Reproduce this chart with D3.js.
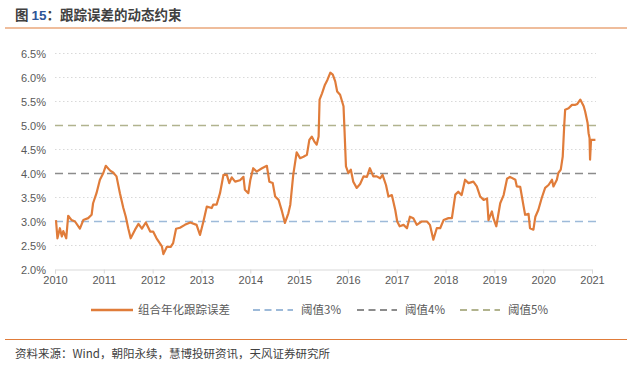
<!DOCTYPE html>
<html><head><meta charset="utf-8">
<script src="https://cdn.jsdelivr.net/npm/d3@7"></script>
<style>
html,body{margin:0;padding:0;background:#fff;}
svg{display:block;}
text{font-family:"Liberation Sans","Noto Sans CJK SC",sans-serif;}
.cn{font-family:"Noto Sans CJK SC","Liberation Sans",sans-serif;}
</style></head>
<body>
<script>
// decimal-year dates and tracking error values (%)
const dates = [2010.02,2010.05,2010.10,2010.14,2010.17,2010.23,2010.27,2010.34,2010.41,2010.51,2010.58,2010.68,2010.75,2010.78,2010.85,2010.92,2010.99,
2011.04,2011.13,2011.19,2011.26,2011.33,2011.40,2011.45,2011.50,2011.55,2011.64,2011.71,2011.78,2011.86,2011.95,
2012.01,2012.08,2012.19,2012.22,2012.29,2012.37,2012.42,2012.48,2012.56,2012.66,2012.77,2012.90,2012.97,
2013.04,2013.11,2013.21,2013.24,2013.31,2013.38,2013.45,2013.52,2013.57,2013.62,2013.69,2013.79,2013.86,2013.89,2013.96,
2014.00,2014.06,2014.13,2014.24,2014.34,2014.39,2014.46,2014.51,2014.58,2014.65,2014.71,2014.78,2014.82,2014.88,2014.95,
2015.02,2015.09,2015.16,2015.21,2015.26,2015.31,2015.36,2015.40,2015.42,2015.47,2015.53,2015.58,2015.64,2015.69,2015.74,2015.78,2015.84,2015.91,2015.93,2015.96,
2016.01,2016.06,2016.11,2016.18,2016.25,2016.32,2016.39,2016.45,2016.52,2016.59,2016.66,2016.71,2016.78,2016.83,2016.90,2016.97,
2017.01,2017.06,2017.14,2017.21,2017.27,2017.34,2017.41,2017.51,2017.62,2017.68,2017.75,2017.82,2017.89,2017.96,
2018.06,2018.13,2018.20,2018.26,2018.33,2018.40,2018.47,2018.57,2018.64,2018.71,2018.78,2018.85,2018.88,2018.95,2018.98,
2019.04,2019.12,2019.19,2019.26,2019.32,2019.43,2019.46,2019.53,2019.60,2019.63,2019.70,2019.73,2019.80,2019.84,2019.90,2019.97,
2020.04,2020.11,2020.18,2020.21,2020.28,2020.31,2020.36,2020.40,2020.43,2020.45,2020.52,2020.59,2020.66,2020.70,2020.76,2020.83,2020.86,2020.91,2020.93,2020.95,2020.96,2020.98,
2021.03,2021.07];
const trackingError = [3.03,2.65,2.86,2.69,2.80,2.65,3.12,3.03,3.00,2.85,3.03,3.07,3.14,3.38,3.59,3.87,4.01,
4.16,4.06,4.02,3.94,3.59,3.28,3.10,2.86,2.65,2.83,2.95,2.85,2.98,2.79,
2.79,2.65,2.48,2.32,2.47,2.47,2.55,2.85,2.87,2.93,2.98,2.93,2.72,
3.00,3.31,3.28,3.35,3.35,3.59,3.97,3.97,3.80,3.92,3.83,3.86,3.93,3.66,3.59,
3.86,4.11,4.04,4.11,4.16,3.83,3.80,3.52,3.45,3.21,2.97,3.17,3.35,3.97,4.44,
4.32,4.35,4.39,4.70,4.77,4.67,4.60,4.77,5.54,5.67,5.85,5.95,6.10,6.06,5.92,5.71,5.64,5.40,4.91,4.15,
4.01,4.08,3.83,3.70,3.78,3.94,3.93,4.11,3.94,3.94,3.90,3.97,3.76,3.52,3.55,3.24,
3.00,2.90,2.93,2.86,3.10,3.07,2.93,3.00,3.00,2.93,2.62,2.86,2.86,3.03,
3.07,3.07,3.56,3.62,3.55,3.87,3.80,3.83,3.73,3.52,3.45,3.48,3.03,3.21,3.07,
2.90,3.38,3.55,3.89,3.93,3.87,3.73,3.72,3.31,3.14,3.16,2.86,2.83,3.10,3.24,3.49,
3.70,3.76,3.87,3.73,3.87,4.01,4.08,4.35,4.98,5.33,5.36,5.43,5.43,5.45,5.54,5.40,5.29,5.05,4.84,4.74,4.29,4.70,
4.70,4.70];
const thresholds = [3, 4, 5];
const thresholdNames = ["阈值3%", "阈值4%", "阈值5%"];
const seriesName = "组合年化跟踪误差";
const yTicks = [2.0,2.5,3.0,3.5,4.0,4.5,5.0,5.5,6.0,6.5];
const xTicks = [2010,2011,2012,2013,2014,2015,2016,2017,2018,2019,2020,2021];
const titleNum = "15";
const titleText = "跟踪误差的动态约束";
const sourceText = "资料来源：Wind，朝阳永续，慧博投研资讯，天风证券研究所";

const W = 632, H = 370;
const orange = "#E07C3A";
const thColors = ["#9DBAD9", "#8C8C8C", "#B1B38E"];

const svg = d3.select("body").append("svg").attr("width", W).attr("height", H);

// title
const t = svg.append("text").attr("class","cn").attr("x", 15).attr("y", 20)
  .attr("font-size", 13.5).attr("font-weight", "bold").attr("fill", "#404040");
t.append("tspan").text("图 ");
t.append("tspan").attr("fill", "#2E5597").attr("font-family","Liberation Sans").text(titleNum);
t.append("tspan").text("：" + titleText);
svg.append("line").attr("x1", 5).attr("x2", 627).attr("y1", 28).attr("y2", 28)
  .attr("stroke", orange).attr("stroke-width", 1.2);

const x = d3.scaleLinear().domain([2010, 2021]).range([55, 592]);
const y = d3.scaleLinear().domain([2.0, 6.5]).range([269.5, 53.5]);
const xRight = 596;

// gridlines
svg.append("g").selectAll("line").data(yTicks.filter(v => v > 2 && !thresholds.includes(v)))
  .join("line").attr("x1", 55).attr("x2", xRight)
  .attr("y1", d => y(d)).attr("y2", d => y(d))
  .attr("stroke", "#D9D9D9").attr("stroke-width", 1).attr("stroke-dasharray", "1.5,2.5");

// thresholds
svg.append("g").selectAll("line").data(thresholds).join("line")
  .attr("x1", 55).attr("x2", xRight)
  .attr("y1", d => y(d)).attr("y2", d => y(d))
  .attr("stroke", (d,i) => thColors[i]).attr("stroke-width", 1.6).attr("stroke-dasharray", "8,5");

// y axis labels
const yAxis = d3.axisLeft(y).tickValues(yTicks).tickFormat(d => d3.format(".1f")(d) + "%").tickSize(0).tickPadding(0);
const gy = svg.append("g").attr("transform", "translate(46,0)").call(yAxis);
gy.select(".domain").remove();
gy.selectAll("text").attr("font-size", 11).attr("fill", "#595959").attr("font-family","Liberation Sans");

// x axis
const xAxis = d3.axisBottom(x).tickValues(xTicks).tickFormat(d3.format("d")).tickSize(4).tickPadding(3);
const gx = svg.append("g").attr("transform", `translate(0,${y(2.0)})`).call(xAxis);
gx.select(".domain").attr("stroke", "#D9D9D9").attr("stroke-width", 1);
gx.selectAll(".tick line").attr("stroke", "#D9D9D9");
gx.selectAll("text").attr("font-size", 11).attr("fill", "#595959").attr("font-family","Liberation Sans");

// line
const data = dates.map((d,i) => [d, trackingError[i]]);
svg.append("path").datum(data)
  .attr("fill", "none").attr("stroke", orange).attr("stroke-width", 2.2).attr("stroke-linejoin","round")
  .attr("d", d3.line().x(d => x(d[0])).y(d => y(d[1])));

// legend
const ly = 310;
const leg = svg.append("g");
leg.append("line").attr("x1", 91).attr("x2", 133).attr("y1", ly).attr("y2", ly)
  .attr("stroke", orange).attr("stroke-width", 2.4);
leg.append("text").attr("class","cn").attr("x", 138).attr("y", ly+4).attr("font-size", 11.5)
  .attr("fill", "#595959").text(seriesName);
const legX = [253, 357, 460];
thresholds.forEach((th, i) => {
  leg.append("line").attr("x1", legX[i]).attr("x2", legX[i]+40).attr("y1", ly).attr("y2", ly)
    .attr("stroke", thColors[i]).attr("stroke-width", 1.8).attr("stroke-dasharray", "7,4.5");
  leg.append("text").attr("class","cn").attr("x", legX[i]+48).attr("y", ly+4).attr("font-size", 11.5)
    .attr("fill", "#595959").text(thresholdNames[i]);
});

// bottom rule and source
svg.append("line").attr("x1", 5).attr("x2", 627).attr("y1", 339.5).attr("y2", 339.5)
  .attr("stroke", orange).attr("stroke-width", 1.2);
svg.append("text").attr("class","cn").attr("x", 15).attr("y", 358).attr("font-size", 11.5)
  .attr("fill", "#404040").text(sourceText);
</script>
</body></html>
